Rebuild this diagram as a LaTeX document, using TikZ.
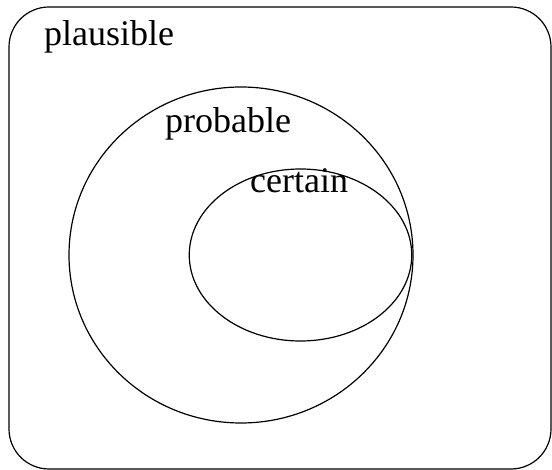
\documentclass[tikz,border=0pt]{standalone}
\usepackage{fontspec}
\setmainfont{Liberation Serif}
\usetikzlibrary{shapes.geometric}
\begin{document}
\begin{tikzpicture}[x=1pt,y=-1pt,
  outline/.style={draw=black,line width=1.2pt},
  lbl/.style={font=\fontsize{36}{40}\selectfont,inner sep=0pt,anchor=base west}]
\useasboundingbox (0,0) rectangle (552,470);
\draw[outline,rounded corners=40pt] (9,7) rectangle (551,469);
\node[outline,ellipse,minimum width=344pt,minimum height=336pt,inner sep=0pt] (prob) at (241,255) {};
\node[outline,ellipse,minimum width=222.5pt,minimum height=172pt,inner sep=0pt] (cert) at (300.5,255) {};
\node[lbl] (plaus) at (44,46) {plausible};
\node[lbl] (probl) at (165,133) {probable};
\node[lbl] (certl) at (250,193) {certain};
\end{tikzpicture}
\end{document}
